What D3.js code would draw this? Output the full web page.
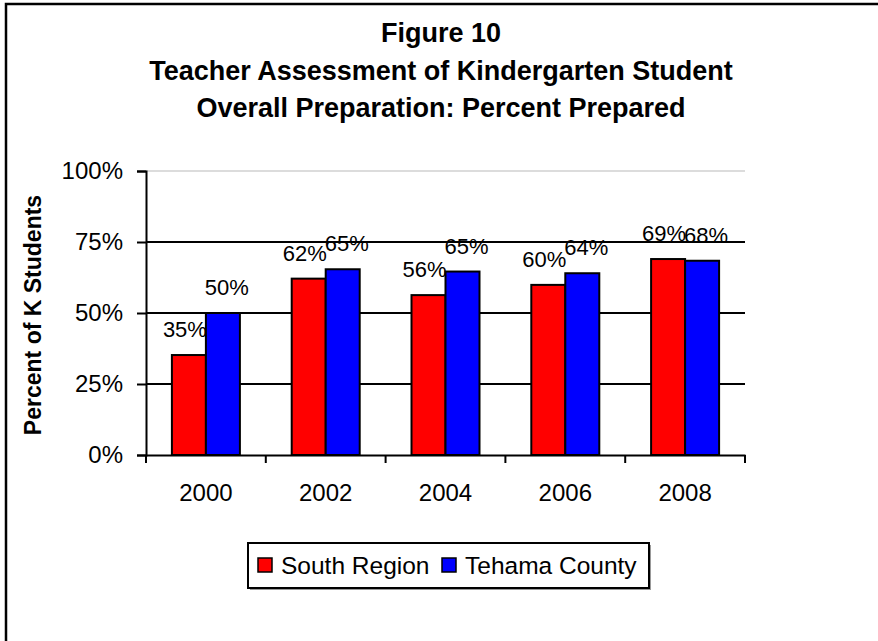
<!DOCTYPE html>
<html>
<head>
<meta charset="utf-8">
<script src="https://cdn.jsdelivr.net/npm/d3@7"></script>
<style>
  body { margin: 0; background: #fff; }
  svg { display: block; font-family: 'Liberation Sans', Arial, sans-serif; }
</style>
</head>
<body>
<svg id="chart" width="878" height="641"></svg>
<script>
// chart data
const years = ['2000', '2002', '2004', '2006', '2008']
const southRegion = [35.2, 62.1, 56.3, 59.9, 69.0]
const tehamaCounty = [50.0, 65.4, 64.6, 64.0, 68.4]
const seriesNames = ['South Region', 'Tehama County']
const yTicks = [0, 25, 50, 75, 100]
const titleLines = ['Figure 10', 'Teacher Assessment of Kindergarten Student', 'Overall Preparation: Percent Prepared']

const colors = ['#ff0000', '#0000ff']
const svg = d3.select('#chart')

// outer frame (cut off at right and bottom like the original)
svg.append('rect')
  .attr('x', 6).attr('y', 4)
  .attr('width', 900).attr('height', 700)
  .attr('fill', 'none').attr('stroke', '#000').attr('stroke-width', 2.5)

// title
svg.selectAll('.title')
  .data(titleLines)
  .enter().append('text')
  .attr('class', 'title')
  .attr('x', 441)
  .attr('y', (d, i) => 42 + i * 37.5)
  .attr('text-anchor', 'middle')
  .attr('font-size', 27)
  .attr('font-weight', 'bold')
  .text(d => d)

const plotL = 146, plotR = 745, plotT = 171, plotB = 455

const x = d3.scaleBand().domain(years).range([plotL, plotR]).padding(0)
const y = d3.scaleLinear().domain([0, 100]).range([plotB, plotT])
const groupW = 68
const x1 = d3.scaleBand().domain([0, 1]).range([0, groupW]).padding(0)

// gridlines
svg.selectAll('.grid')
  .data(yTicks.filter(d => d > 0))
  .enter().append('line')
  .attr('x1', plotL).attr('x2', plotR)
  .attr('y1', d => y(d)).attr('y2', d => y(d))
  .attr('stroke', d => d === 100 ? '#d0d0d0' : '#000')
  .attr('stroke-width', d => d === 100 ? 1.5 : 2)

// bars
const data = years.map((yr, i) => ({ year: yr, values: [southRegion[i], tehamaCounty[i]] }))
const groups = svg.selectAll('.grp')
  .data(data)
  .enter().append('g')
  .attr('transform', d => `translate(${x(d.year) + (x.bandwidth() - groupW) / 2},0)`)

groups.selectAll('rect')
  .data(d => d.values.map((v, k) => ({ v, k })))
  .enter().append('rect')
  .attr('x', d => x1(d.k))
  .attr('width', x1.bandwidth())
  .attr('y', d => y(d.v))
  .attr('height', d => plotB - y(d.v))
  .attr('fill', d => colors[d.k])
  .attr('stroke', '#000')
  .attr('stroke-width', 2)

// data labels (red ones nudged left, blue ones right, roughly as excel placed them)
const fmt = d3.format('.0f')
groups.selectAll('.lbl')
  .data(d => d.values.map((v, k) => ({ v, k })))
  .enter().append('text')
  .attr('class', 'lbl')
  .attr('x', d => x1(d.k) + x1.bandwidth() / 2 + (d.k === 0 ? -4 : 4))
  .attr('y', d => y(d.v) - 18)
  .attr('text-anchor', 'middle')
  .attr('font-size', 22)
  .text(d => fmt(d.v) + '%')

// y axis
const yAxis = d3.axisLeft(y).tickValues(yTicks).tickFormat(d => d + '%').tickSize(9).tickPadding(14)
const gy = svg.append('g').attr('transform', `translate(${plotL},0)`).call(yAxis)
gy.select('.domain').attr('stroke-width', 2)
gy.selectAll('.tick line').attr('stroke-width', 2)
gy.selectAll('.tick text').attr('font-size', 24).attr('font-family', null).attr('fill', '#000')

// x axis, ticks at category boundaries
const xAxis = d3.axisBottom(x).tickSize(0).tickPadding(29)
const gx = svg.append('g').attr('transform', `translate(0,${plotB})`).call(xAxis)
gx.select('.domain').attr('stroke-width', 2)
gx.selectAll('.tick text').attr('font-size', 24).attr('font-family', null).attr('fill', '#000')
gx.selectAll('.edge')
  .data(years.map(d => x(d)).concat([plotR]))
  .enter().append('line')
  .attr('x1', d => d).attr('x2', d => d)
  .attr('y1', 0).attr('y2', 8)
  .attr('stroke', '#000').attr('stroke-width', 2)

// y axis title
svg.append('text')
  .attr('transform', 'translate(41,315) rotate(-90)')
  .attr('text-anchor', 'middle')
  .attr('font-size', 23)
  .attr('font-weight', 'bold')
  .text('Percent of K Students')

// legend
const legend = svg.append('g')
legend.append('rect')
  .attr('x', 250).attr('y', 545).attr('width', 401).attr('height', 45)
  .attr('fill', '#999')
legend.append('rect')
  .attr('x', 248).attr('y', 543).attr('width', 401).attr('height', 45)
  .attr('fill', '#fff').attr('stroke', '#000').attr('stroke-width', 2)
const itemX = [258, 442]
seriesNames.forEach((name, i) => {
  legend.append('rect')
    .attr('x', itemX[i]).attr('y', 558).attr('width', 14).attr('height', 14)
    .attr('fill', colors[i]).attr('stroke', '#000').attr('stroke-width', 1.5)
  legend.append('text')
    .attr('x', itemX[i] + 23).attr('y', 574)
    .attr('font-size', 24.5)
    .text(name)
})
</script>
</body>
</html>
